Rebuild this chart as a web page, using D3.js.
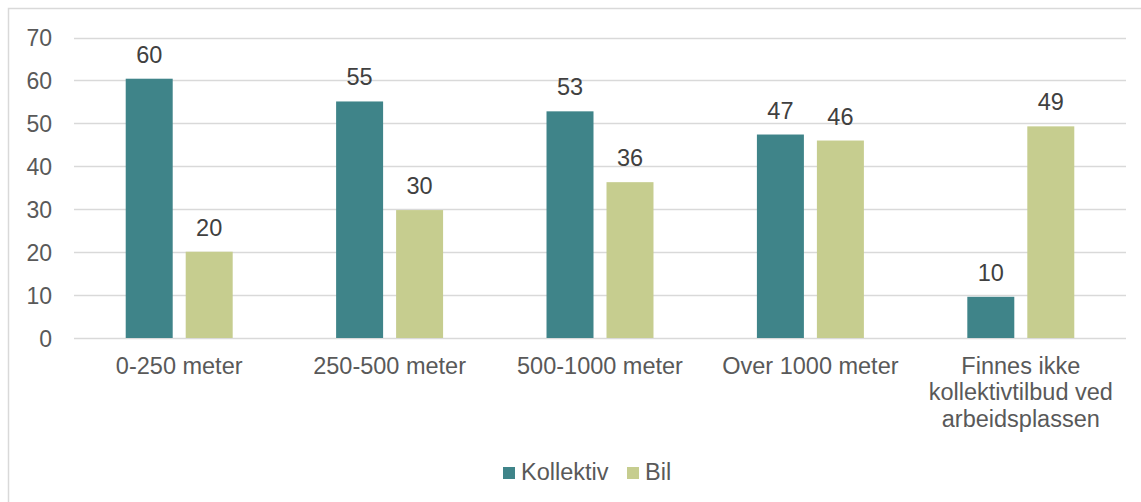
<!DOCTYPE html>
<html>
<head>
<meta charset="utf-8">
<script src="https://cdn.jsdelivr.net/npm/d3@7"></script>
<style>
  html, body { margin: 0; padding: 0; background: #fff; }
  svg { display: block; font-family: "Liberation Sans", Arial, sans-serif; }
</style>
</head>
<body>
<svg id="chart" width="1141" height="502"></svg>
<script>
const categories = [
  ["0-250 meter"],
  ["250-500 meter"],
  ["500-1000 meter"],
  ["Over 1000 meter"],
  ["Finnes ikke", "kollektivtilbud ved", "arbeidsplassen"]
];
const seriesNames = ["Kollektiv", "Bil"];
const kollektiv = [60.4, 55.1, 52.8, 47.4, 9.6];
const bil = [20.1, 29.8, 36.3, 46.0, 49.3];
const yTicks = [0, 10, 20, 30, 40, 50, 60, 70];
const colors = ["#3F8489", "#C6CD8F"];

(function () {
const svg = d3.select("#chart");
const W = 1141, H = 502;
const textColor = "#595959";
const gridColor = "#D9D9D9";

// outer chart frame (extends past the visible area on right/bottom)
svg.append("rect")
  .attr("x", 8.5).attr("y", 8.5)
  .attr("width", W + 10).attr("height", H + 10)
  .attr("fill", "none").attr("stroke", gridColor).attr("stroke-width", 1.5);

const plotLeft = 74, plotRight = 1126, plotTop = 37.5, plotBottom = 338;

const y = d3.scaleLinear().domain([0, 70]).range([plotBottom, plotTop]);
const catKeys = categories.map(c => c.join(" "));
const x0 = d3.scaleBand().domain(catKeys).range([plotLeft, plotRight]).paddingInner(0).paddingOuter(0);
const x1 = d3.scaleBand().domain(seriesNames).range([0, x0.bandwidth()])
  .paddingInner(0.2167).paddingOuter(0.862);

// gridlines
svg.append("g").selectAll("line").data(yTicks).join("line")
  .attr("x1", plotLeft).attr("x2", plotRight)
  .attr("y1", d => Math.round(y(d)) + 0.5).attr("y2", d => Math.round(y(d)) + 0.5)
  .attr("stroke", gridColor).attr("stroke-width", 1.5);

// y axis labels
const yAxis = d3.axisLeft(y).tickValues(yTicks).tickSize(0).tickPadding(0);
const yg = svg.append("g").attr("transform", `translate(52,0)`).call(yAxis);
yg.select(".domain").remove();
yg.selectAll("text")
  .attr("fill", textColor).attr("font-size", 23)
  .attr("font-family", "Liberation Sans, Arial, sans-serif")
  .attr("dy", "0.36em");

const data = catKeys.map((k, i) => ({ key: k, values: [
  { s: "Kollektiv", v: kollektiv[i], c: colors[0] },
  { s: "Bil", v: bil[i], c: colors[1] }
]}));

const groups = svg.append("g").selectAll("g").data(data).join("g")
  .attr("transform", d => `translate(${x0(d.key)},0)`);

groups.selectAll("rect").data(d => d.values).join("rect")
  .attr("x", d => x1(d.s))
  .attr("width", x1.bandwidth())
  .attr("y", d => y(d.v))
  .attr("height", d => y(0) - y(d.v))
  .attr("fill", d => d.c);

groups.selectAll("text.val").data(d => d.values).join("text")
  .attr("class", "val")
  .attr("x", d => x1(d.s) + x1.bandwidth() / 2)
  .attr("y", d => y(d.v) - 16)
  .attr("text-anchor", "middle")
  .attr("fill", "#404040")
  .attr("font-size", 23.5)
  .text(d => d3.format(".0f")(d.v));

// category labels
const xg = svg.append("g");
categories.forEach((lines, i) => {
  const cx = x0(catKeys[i]) + x0.bandwidth() / 2;
  const t = xg.append("text")
    .attr("x", cx).attr("y", 373.5)
    .attr("text-anchor", "middle")
    .attr("fill", textColor).attr("font-size", 23.5);
  lines.forEach((ln, j) => {
    t.append("tspan").attr("x", cx).attr("dy", j === 0 ? 0 : 26.5).text(ln);
  });
});

// legend
const legend = svg.append("g");
const legendItems = [
  { name: seriesNames[0], c: colors[0], x: 503 },
  { name: seriesNames[1], c: colors[1], x: 627 }
];
legendItems.forEach(it => {
  legend.append("rect").attr("x", it.x).attr("y", 467).attr("width", 12).attr("height", 12).attr("fill", it.c);
  legend.append("text").attr("x", it.x + 18).attr("y", 479.5)
    .attr("fill", textColor).attr("font-size", 23.5).text(it.name);
});
})();
</script>
</body>
</html>
